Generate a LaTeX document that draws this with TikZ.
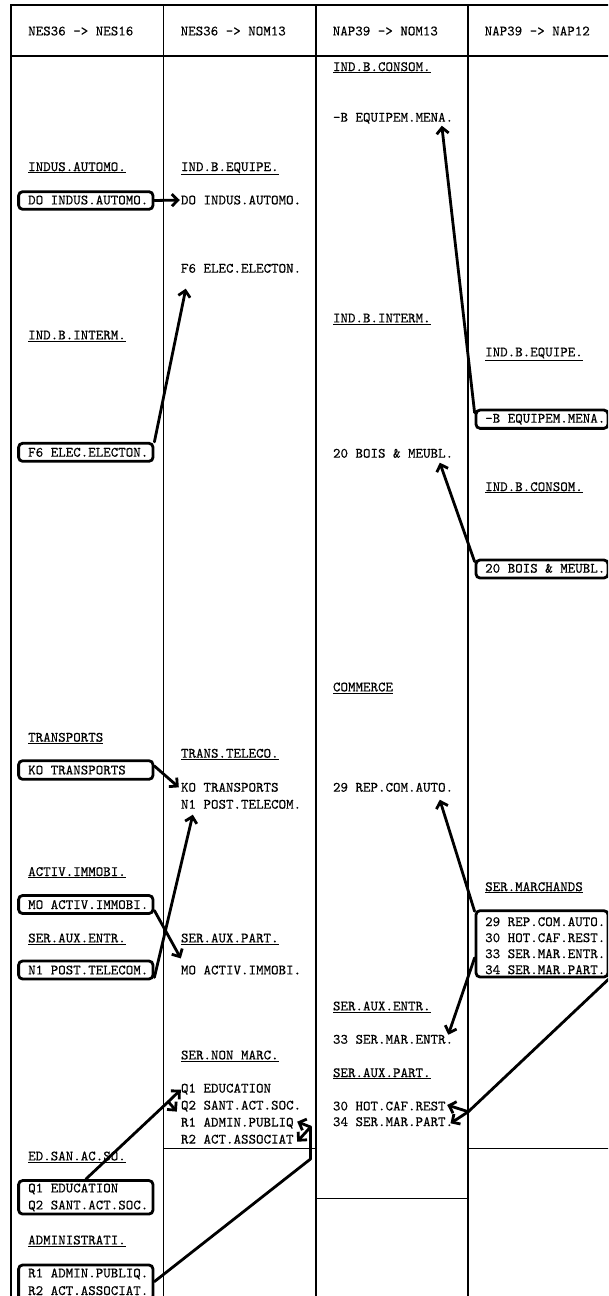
\documentclass[tikz,border=0pt]{standalone}
\usepackage{fontspec}
\newfontfamily\rtt{lmmono10-regular.otf}[FakeBold=0.3]
\usetikzlibrary{arrows.meta,calc}
\begin{document}
\begin{tikzpicture}[x=1pt,y=-1pt,
  txt/.style={anchor=base west, inner sep=0pt, font=\rtt\fontsize{14.3}{17}\selectfont},
  tbox/.style={draw, line width=2.8pt, rounded corners=4pt, inner sep=0pt},
  cbox/.style={tbox, minimum width=134.4pt},
  rbox/.style={tbox, minimum width=132pt},
  arr/.style={line width=2.8pt, -{Straight Barb[length=6pt,width=12pt,line join=miter]}, line join=round, line cap=round},
  seg/.style={line width=2.8pt, line join=round, line cap=round},
  rule/.style={line width=1.6pt}]
\useasboundingbox (0,0) rectangle (608,1296);
\clip (0,0) rectangle (608,1296);
% frame and columns
\draw[rule] (11,1300) -- (11,5) -- (612,5);
\draw[rule] (11,55.7) -- (612,55.7);
\draw[rule] (163.6,5) -- (163.6,1300);
\draw[rule] (315.8,5) -- (315.8,1300);
\draw[rule] (468,5) -- (468,1300);
\draw[rule] (163.6,1148.5) -- (315.8,1148.5);
\draw[rule] (315.8,1198.3) -- (468,1198.3);
\draw[rule] (468,1148.3) -- (612,1148.3);
% headers
\node[txt] (h1) at (28,35.4) {NES36 -> NES16};
\node[txt] (h2) at (180.5,35.4) {NES36 -> NOM13};
\node[txt] (h3) at (332.6,35.4) {NAP39 -> NOM13};
\node[txt] (h4) at (484.5,35.4) {NAP39 -> NAP12};
% boxes
\node[cbox, minimum height=17.6pt] (bDO) at (85.8,200.5) {};
\node[cbox, minimum height=18pt] (bF6) at (85.8,452.3) {};
\node[cbox, minimum height=18.6pt] (bKO) at (85.8,770) {};
\node[cbox, minimum height=18pt] (bMO) at (85.8,904.5) {};
\node[cbox, minimum height=18pt] (bN1) at (85.8,970) {};
\node[cbox, minimum height=33.5pt] (bQ) at (85.8,1197.3) {};
\node[cbox, minimum height=35pt] (bR) at (85.8,1282.5) {};
\node[rbox, minimum height=18.3pt] (bBm) at (542,419.2) {};
\node[rbox, minimum height=18pt] (b20) at (542,569) {};
\node[rbox, minimum height=66.3pt] (bSM) at (542,943.85) {};
% column 1
\node[txt] (u11) at (28,171.1) {\underline{INDUS.AUTOMO.}};
\node[txt] (t1DO) at (28,204.4) {DO INDUS.AUTOMO.};
\node[txt] (u12) at (28,339.4) {\underline{IND.B.INTERM.}};
\node[txt] (t1F6) at (28,456.7) {F6 ELEC.ELECTON.};
\node[txt] (u13) at (28,741.7) {\underline{TRANSPORTS}};
\node[txt] (t1KO) at (28,774.4) {KO TRANSPORTS};
\node[txt] (u14) at (28,876) {\underline{ACTIV.IMMOBI.}};
\node[txt] (t1MO) at (28,909) {MO ACTIV.IMMOBI.};
\node[txt] (u15) at (28,942.4) {\underline{SER.AUX.ENTR.}};
\node[txt] (t1N1) at (28,974.4) {N1 POST.TELECOM.};
\node[txt] (u16) at (28,1160.4) {\underline{ED.SAN.AC.SO.}};
\node[txt] (t1Q1) at (28,1192.4) {Q1 EDUCATION};
\node[txt] (t1Q2) at (28,1209.4) {Q2 SANT.ACT.SOC.};
\node[txt] (u17) at (28,1244.4) {\underline{ADMINISTRATI.}};
\node[txt] (t1R1) at (28,1277.4) {R1 ADMIN.PUBLIQ.};
\node[txt] (t1R2) at (28,1295) {R2 ACT.ASSOCIAT.};
% column 2
\node[txt] (u21) at (180.8,171.1) {\underline{IND.B.EQUIPE.}};
\node[txt] (t2DO) at (180.8,204.4) {DO INDUS.AUTOMO.};
\node[txt] (t2F6) at (180.8,272.7) {F6 ELEC.ELECTON.};
\node[txt] (u22) at (180.8,757.7) {\underline{TRANS.TELECO.}};
\node[txt] (t2KO) at (180.8,791.7) {KO TRANSPORTS};
\node[txt] (t2N1) at (180.8,808.7) {N1 POST.TELECOM.};
\node[txt] (u23) at (180.8,942.4) {\underline{SER.AUX.PART.}};
\node[txt] (t2MO) at (180.8,974.4) {MO ACTIV.IMMOBI.};
\node[txt] (u24) at (180.8,1059.4) {\underline{SER.NON MARC.}};
\node[txt] (t2Q1) at (180.8,1092.6) {Q1 EDUCATION};
\node[txt] (t2Q2) at (180.8,1109.6) {Q2 SANT.ACT.SOC.};
\node[txt] (t2R1) at (180.8,1126.6) {R1 ADMIN.PUBLIQ};
\node[txt] (t2R2) at (180.8,1143.6) {R2 ACT.ASSOCIAT};
% column 3
\node[txt] (u31) at (332.8,71.1) {\underline{IND.B.CONSOM.}};
\node[txt] (t3Bm) at (332.8,121.7) {-B EQUIPEM.MENA.};
\node[txt] (u32) at (332.8,322.4) {\underline{IND.B.INTERM.}};
\node[txt] (t320) at (332.8,457.7) {20 BOIS \& MEUBL.};
\node[txt] (u33) at (332.8,691.4) {\underline{COMMERCE}};
\node[txt] (t329) at (332.8,791.7) {29 REP.COM.AUTO.};
\node[txt] (u34) at (332.8,1010.4) {\underline{SER.AUX.ENTR.}};
\node[txt] (t333) at (332.8,1043.7) {33 SER.MAR.ENTR.};
\node[txt] (u35) at (332.8,1077.1) {\underline{SER.AUX.PART.}};
\node[txt] (t330) at (332.8,1110.4) {30 HOT.CAF.REST};
\node[txt] (t334) at (332.8,1126.1) {34 SER.MAR.PART.};
% column 4
\node[txt] (u41) at (485,356.4) {\underline{IND.B.EQUIPE.}};
\node[txt] (t4Bm) at (485,422.7) {-B EQUIPEM.MENA.};
\node[txt] (u42) at (485,491.1) {\underline{IND.B.CONSOM.}};
\node[txt] (t420) at (485,572.7) {20 BOIS \& MEUBL.};
\node[txt] (u43) at (485,891.1) {\underline{SER.MARCHANDS}};
\node[txt] (t429) at (485,926.1) {29 REP.COM.AUTO.};
\node[txt] (t430) at (485,942.1) {30 HOT.CAF.REST.};
\node[txt] (t433) at (485,958.1) {33 SER.MAR.ENTR.};
\node[txt] (t434) at (485,974.1) {34 SER.MAR.PART.};
% junctions
\coordinate (jQ) at (168.3,1101.7);
\coordinate (jR1) at (310.5,1159);
\coordinate (jR2) at (310.5,1127);
\coordinate (jS) at (468.3,1111.7);
% arrows
\draw[arr] (bDO.east) -- ($(t2DO.west)+(-1,0)$);
\draw[arr] (bF6.north east) -- ($(t2F6.base west)+(5,16)$);
\draw[arr] ($(bBm.north west)+(0,4)$) -- ($(t3Bm.base west)+(109,4)$);
\draw[arr] ($(b20.north west)+(0,3)$) -- ($(t320.base west)+(107,5)$);
\draw[arr] ($(bKO.east)+(0,-4)$) -- ($(t2KO.west)+(-2,0)$);
\draw[arr] ($(bN1.south east)+(0,-3)$) -- ($(t2N1.base west)+(12,6)$);
\draw[arr] ($(bMO.east)+(0,6)$) -- ($(t2MO.base west)+(0,-16)$);
\draw[arr] ($(bSM.north west)+(0,2)$) -- ($(t329.base west)+(107,8)$);
\draw[arr] ($(bSM.west)+(0,14)$) -- ($(t333.base west)+(115.5,-9)$);
\draw[seg] (bSM.south east) -- (jS);
\draw[arr] (jS) -- ($(t330.base east)+(1.4,-5.4)$);
\draw[arr] (jS) -- ($(t334.base east)+(-2.8,-2.8)$);
\draw[seg] (bQ.north) -- (jQ);
\draw[arr] (jQ) -- ($(t2Q1.base west)+(0,-3)$);
\draw[arr] (jQ) -- ($(t2Q2.base west)+(-4,2)$);
\draw[seg] ($(bR.north east)+(0,18)$) -- (jR1) -- (jR2);
\draw[arr] (jR2) -- ($(t2R1.base east)+(3.4,-4.9)$);
\draw[arr] (jR2) -- ($(t2R2.base east)+(3.4,-1.9)$);
\end{tikzpicture}
\end{document}
